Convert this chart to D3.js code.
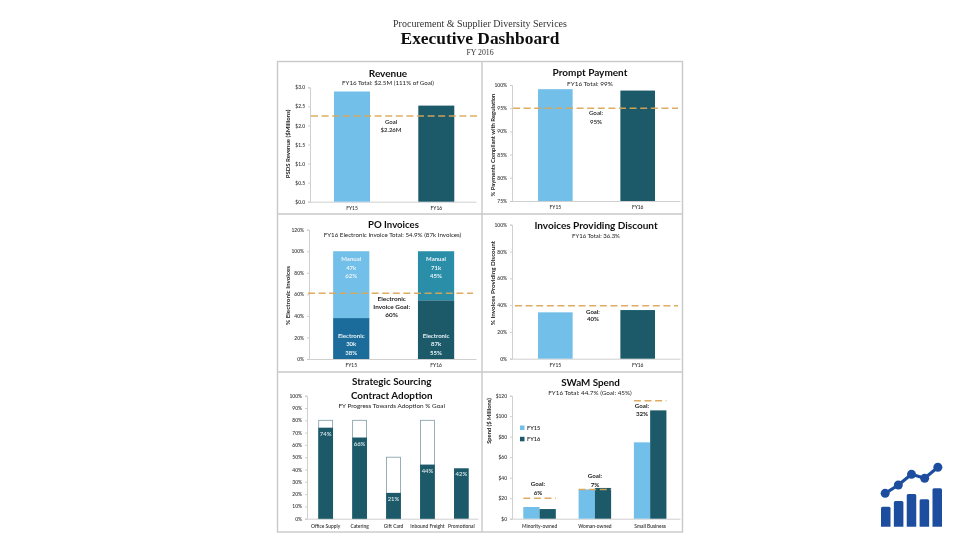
<!DOCTYPE html>
<html><head><meta charset="utf-8">
<script src="https://cdn.jsdelivr.net/npm/d3@7/dist/d3.min.js"></script>
<style>html,body{margin:0;padding:0;background:#fff}svg{display:block}text{font-family:Lato,"Open Sans",sans-serif;fill:#222}</style>
</head><body>
<svg id="c" width="960" height="540"></svg>
<script>
// ---- data ----
const years = ["FY15","FY16"];
const revenue = [2.89,2.52];
const revenueGoal = 2.25;
const revenueTicks = [0,0.5,1,1.5,2,2.5,3];
const prompt = [99.1,98.8];
const promptGoal = 95;
const promptTicks = [75,80,85,90,95,100];
const poElectronic = [38,54.5];
const poManual = [62,45.5];
const poGoal = 61;
const poTicks = [0,20,40,60,80,100,120];
const poElectronicLabels = [["Electronic","30k","38%"],["Electronic","87k","55%"]];
const poManualLabels = [["Manual","47k","62%"],["Manual","71k","45%"]];
const discount = [34.6,36.3];
const discountGoal = 39.5;
const discountTicks = [0,20,40,60,80,100];
const ssCategories = ["Office Supply","Catering","Gift Card","Inbound Freight","Promotional"];
const ssTarget = [80,80,50,80,null];
const ssActual = [74,66,21,44,41];
const ssLabels = ["74%","66%","21%","44%","42%"];
const ssTicks = [0,10,20,30,40,50,60,70,80,90,100];
const swamCategories = ["Minority-owned","Woman-owned","Small Business"];
const swamFY15 = [11.4,28.6,74.5];
const swamFY16 = [9.4,30,105.7];
const swamGoal = [20,28.6,115];
const swamGoalLabels = ["6%","7%","32%"];
const swamTicks = [0,20,40,60,80,100,120];
const iconBars = [60,77,98,82,115];
const iconLine = [100,125,157,145,178];

// ---- colours ----
const LIGHT="#72bfea", DARK="#1a5a6b", GOAL="#dca654", AXIS="#c4c4c4", BORDER="#c9c9c9";

const svg=d3.select("#c");
const soft=svg.append("defs").append("filter").attr("id","soft").attr("x","-5%").attr("y","-5%").attr("width","110%").attr("height","110%");
soft.append("feGaussianBlur").attr("stdDeviation",0.4);
const root=svg.append("g").attr("filter","url(#soft)");

function txt(g,x,y,s,o={}){
  return g.append("text").attr("x",x).attr("y",y).text(s)
    .attr("text-anchor",o.anchor||"middle").attr("font-size",o.size||5.5)
    .attr("font-weight",o.weight||"normal").style("fill",o.fill||"#222")
    .style("font-family",o.family||null);
}
function lines(g,x,y,arr,lh,o){arr.forEach((s,i)=>txt(g,x,y+i*lh,s,o));}

// header
const SERIF='"Liberation Serif","DejaVu Serif",serif';
txt(root,480,26.5,"Procurement & Supplier Diversity Services",{size:10,family:SERIF,fill:"#333"});
txt(root,480,44,"Executive Dashboard",{size:17.4,weight:"bold",family:SERIF,fill:"#111"});
txt(root,480,54.5,"FY 2016",{size:7.8,family:SERIF,fill:"#333"});

// panel frames
root.append("rect").attr("x",277.5).attr("y",61.5).attr("width",405).attr("height",470.5).attr("fill","none").attr("stroke",BORDER).attr("stroke-width",1.4);
root.append("line").attr("x1",482).attr("x2",482).attr("y1",61).attr("y2",532).attr("stroke",BORDER).attr("stroke-width",1.4);
[214,372].forEach(y=>root.append("line").attr("x1",277).attr("x2",683).attr("y1",y).attr("y2",y).attr("stroke",BORDER).attr("stroke-width",1.4));

function chart(p){
  const g=root.append("g");
  const y=d3.scaleLinear().domain(p.yDomain).range([p.bottom,p.top]);
  const x=d3.scaleBand().domain(p.cats).range([p.left,p.right]).paddingInner(p.inner).paddingOuter(p.outer).align(p.align);
  const ay=g.append("g").attr("transform",`translate(${p.left},0)`)
    .call(d3.axisLeft(y).tickValues(p.ticks).tickFormat(p.fmt).tickSize(2));
  const ax=g.append("g").attr("transform",`translate(0,${p.bottom})`)
    .call(d3.axisBottom(x).tickSize(0).tickPadding(p.xPad||5));
  [ay,ax].forEach(a=>{a.selectAll("path,line").attr("stroke",AXIS).attr("stroke-width",0.8);
    a.selectAll("text").attr("font-size",p.tickSize||4.9).attr("font-weight",600).style("fill","#333");
    a.attr("font-family",null);});
  if(p.ylab){
    const cy=p.ylabY||(p.top+p.bottom)/2;
    txt(g,p.ylabX,cy,p.ylab,{size:p.ylabSize||5.8,weight:700}).attr("transform",`rotate(-90 ${p.ylabX} ${cy})`);
  }
  return {g,x,y};
}
function goalLine(g,x1,x2,y){
  g.append("line").attr("x1",x1).attr("x2",x2).attr("y1",y).attr("y2",y)
   .attr("stroke",GOAL).attr("stroke-width",1.5).attr("stroke-dasharray","7 3.6").attr("opacity",.92);
}
function twoBars(c,vals,base){
  c.g.selectAll("rect.b").data(vals).join("rect").attr("class","b")
   .attr("x",(d,i)=>c.x(years[i])).attr("width",c.x.bandwidth())
   .attr("y",d=>c.y(d)).attr("height",d=>c.y(base)-c.y(d))
   .attr("fill",(d,i)=>i?DARK:LIGHT);
}

// Revenue
{
  const c=chart({cats:years,yDomain:[0,3],top:87.3,bottom:201.7,left:310,right:476,inner:.573,outer:.271,align:.525,ticks:revenueTicks,fmt:d=>"$"+d.toFixed(1),ylabX:290,ylabY:144,ylabSize:6,ylab:"PSDS Revenue ($Millions)"});
  twoBars(c,revenue,0);
  goalLine(c.g,311,477,c.y(revenueGoal));
  txt(c.g,388,77,"Revenue",{size:10,weight:700,fill:"#111"});
  txt(c.g,388,85,"FY16 Total: $2.5M (111% of Goal)",{size:6.2});
  lines(c.g,391,124,["Goal","$2.26M"],8,{size:6,weight:600});
}
// Prompt Payment
{
  const c=chart({cats:years,yDomain:[75,100],top:85,bottom:201,left:512,right:680,inner:.58,outer:.31,align:.51,ticks:promptTicks,fmt:d=>d+"%",ylabX:495,ylabY:145,ylabSize:5.9,ylab:"% Payments Compliant with Regulation"});
  twoBars(c,prompt,75);
  goalLine(c.g,513,678,c.y(promptGoal));
  txt(c.g,590,76,"Prompt Payment",{size:10,weight:700,fill:"#111"});
  txt(c.g,590,85.5,"FY16 Total: 99%",{size:6.4});
  lines(c.g,596,115,["Goal:","95%"],9,{size:6.2,weight:600});
}
// PO Invoices
{
  const c=chart({cats:years,yDomain:[0,120],top:229.7,bottom:359,left:309,right:476,inner:.573,outer:.271,align:.525,ticks:poTicks,fmt:d=>d+"%",ylabX:290,ylabY:295.5,ylabSize:6.3,ylab:"% Electronic Invoices"});
  const eCol=["#1b6c9b",DARK], mCol=[LIGHT,"#2a8ea8"];
  c.g.selectAll("rect.e").data(poElectronic).join("rect").attr("x",(d,i)=>c.x(years[i])).attr("width",c.x.bandwidth())
    .attr("y",d=>c.y(d)).attr("height",d=>c.y(0)-c.y(d)).attr("fill",(d,i)=>eCol[i]);
  c.g.selectAll("rect.m").data(poManual).join("rect").attr("x",(d,i)=>c.x(years[i])).attr("width",c.x.bandwidth())
    .attr("y",(d,i)=>c.y(poElectronic[i]+d)).attr("height",d=>c.y(0)-c.y(d)).attr("fill",(d,i)=>mCol[i]);
  goalLine(c.g,308,473,c.y(poGoal));
  years.forEach((yr,i)=>{
    const cx=c.x(yr)+c.x.bandwidth()/2;
    lines(c.g,cx,261,poManualLabels[i],8.5,{size:6,weight:700,fill:"#e9f3f7"});
    lines(c.g,cx,337.7,poElectronicLabels[i],8.6,{size:6,weight:700,fill:"#e9f3f7"});
  });
  txt(c.g,393.5,228,"PO Invoices",{size:9.6,weight:700,fill:"#111"});
  txt(c.g,392.5,237,"FY16 Electronic Invoice Total: 54.9% (87k Invoices)",{size:6.2});
  lines(c.g,391.7,300.5,["Electronic","Invoice Goal:","60%"],8.4,{size:6.4,weight:700});
}
// Invoices Providing Discount
{
  const c=chart({cats:years,yDomain:[0,100],top:224.7,bottom:358.7,left:512,right:680,inner:.58,outer:.31,align:.51,ticks:discountTicks,fmt:d=>d+"%",ylabX:495,ylabY:283,ylabSize:6.3,ylab:"% Invoices Providing Discount"});
  twoBars(c,discount,0);
  goalLine(c.g,515,678,c.y(discountGoal));
  txt(c.g,596,228.5,"Invoices Providing Discount",{size:10,weight:700,fill:"#111"});
  txt(c.g,596,238,"FY16 Total: 36.3%",{size:6});
  lines(c.g,593,313.7,["Goal:","40%"],7.6,{size:6,weight:700});
}
// Strategic Sourcing
{
  const c=chart({cats:ssCategories,yDomain:[0,100],top:395.7,bottom:518.7,left:307,right:478,inner:.566,outer:.303,align:.55,ticks:ssTicks,fmt:d=>d+"%",xPad:6,tickSize:4.9});
  c.g.selectAll("rect.t").data(ssTarget.filter(d=>d!==null)).join("rect")
    .attr("x",(d,i)=>c.x(ssCategories[i])+.4).attr("width",c.x.bandwidth()-.8)
    .attr("y",d=>c.y(d)).attr("height",d=>c.y(0)-c.y(d)).attr("fill","#fff").attr("stroke","#7e9ba4").attr("stroke-width",.8);
  c.g.selectAll("rect.a").data(ssActual).join("rect")
    .attr("x",(d,i)=>c.x(ssCategories[i])).attr("width",c.x.bandwidth())
    .attr("y",d=>c.y(d)).attr("height",d=>c.y(0)-c.y(d)).attr("fill",DARK);
  ssActual.forEach((d,i)=>txt(c.g,c.x(ssCategories[i])+c.x.bandwidth()/2,c.y(d)+8,ssLabels[i],{size:5.9,weight:600,fill:"#dfe9ec"}));
  txt(c.g,391.7,385,"Strategic Sourcing",{size:9.9,weight:700,fill:"#111"});
  txt(c.g,391.7,398.5,"Contract Adoption",{size:9.9,weight:700,fill:"#111"});
  txt(c.g,391.7,407.7,"FY Progress Towards Adoption % Goal",{size:6.4});
}
// SWaM Spend
{
  const c=chart({cats:swamCategories,yDomain:[0,120],top:395.7,bottom:518.7,left:512,right:680,inner:.412,outer:.225,align:.454,ticks:swamTicks,fmt:d=>"$"+d,ylabX:491,ylabY:421,ylab:"Spend ($ Millions)",xPad:6,tickSize:4.9});
  const w=c.x.bandwidth()/2;
  c.g.selectAll("rect.f15").data(swamFY15).join("rect").attr("x",(d,i)=>c.x(swamCategories[i])).attr("width",w)
    .attr("y",d=>c.y(d)).attr("height",d=>c.y(0)-c.y(d)).attr("fill",LIGHT);
  c.g.selectAll("rect.f16").data(swamFY16).join("rect").attr("x",(d,i)=>c.x(swamCategories[i])+w).attr("width",w)
    .attr("y",d=>c.y(d)).attr("height",d=>c.y(0)-c.y(d)).attr("fill",DARK);
  swamCategories.forEach((cat,i)=>goalLine(c.g,c.x(cat),c.x(cat)+2*w,c.y(swamGoal[i])));
  years.forEach((yr,i)=>{
    c.g.append("rect").attr("x",520).attr("y",425.5+i*11.3).attr("width",4.5).attr("height",4.5).attr("fill",i?DARK:LIGHT);
    txt(c.g,527,430+i*11.3,yr,{anchor:"start",size:5.6,weight:600});
  });
  txt(c.g,590.5,385.5,"SWaM Spend",{size:9.8,weight:700,fill:"#111"});
  txt(c.g,590,395,"FY16 Total: 44.7% (Goal: 45%)",{size:6.3});
  const goalTextX=[538,595,642], goalTextY=[486,478,407.5];
  swamCategories.forEach((cat,i)=>lines(c.g,goalTextX[i],goalTextY[i],["Goal:",swamGoalLabels[i]],8.5,{size:6.2,weight:700}));
}
// Corner icon
{
  const BLUE="#1f4e9f";
  const g=root.append("g");
  const slots=d3.range(iconBars.length);
  const ix=d3.scaleBand().domain(slots).range([881,942]).paddingInner(.26).paddingOuter(0);
  const iy=d3.scaleLinear().domain([0,178]).range([526.7,467.3]);
  g.selectAll("path.ib").data(iconBars).join("path")
    .attr("d",(d,i)=>{const x=ix(i),w=ix.bandwidth(),t=iy(d),b=iy(0),r=1.5;
      return `M${x},${b}V${t+r}Q${x},${t} ${x+r},${t}H${x+w-r}Q${x+w},${t} ${x+w},${t+r}V${b}Z`;})
    .attr("fill",BLUE);
  const cx=i=>ix(i)+ix.bandwidth()/2+(i-2)*0.3;
  g.append("path").attr("d",d3.line().x((d,i)=>cx(i)).y(d=>iy(d))(iconLine)).attr("fill","none").attr("stroke",BLUE).attr("stroke-width",3.2);
  g.selectAll("circle").data(iconLine).join("circle").attr("cx",(d,i)=>cx(i)).attr("cy",d=>iy(d)).attr("r",4.5).attr("fill",BLUE);
}
</script>
</body></html>
